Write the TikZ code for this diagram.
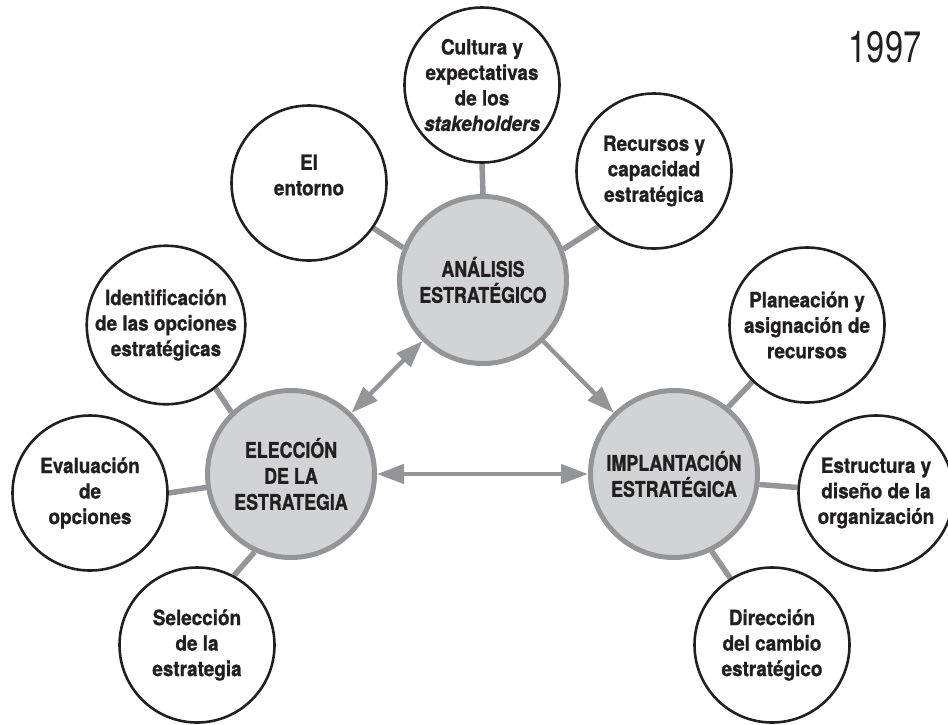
\documentclass[tikz,border=0pt]{standalone}
\usepackage{fontspec}
\setmainfont{TeX Gyre Heros}[FakeStretch=0.9, BoldFeatures={FakeBold=1}, BoldItalicFeatures={FakeBold=1}]
\newfontfamily\capsfont{TeX Gyre Heros}[FakeStretch=0.83, BoldFeatures={FakeBold=1}]
\newfontfamily\yearfont{TeX Gyre Heros}[FakeStretch=0.74]
\usetikzlibrary{arrows.meta,backgrounds}
\definecolor{fillgray}{RGB}{209,211,212}
\definecolor{linegray}{RGB}{147,149,152}
\definecolor{ink}{RGB}{35,31,32}
\begin{document}
\begin{tikzpicture}[x=1pt,y=-1pt,
  every node/.style={text=ink, font=\fontsize{21}{25.5}\selectfont\bfseries},
  outer/.style={circle, draw=ink, line width=2.6pt, fill=white, minimum size=155pt, inner sep=0pt, align=center},
  inner/.style={circle, draw=linegray, line width=5pt, fill=fillgray, minimum size=167pt, inner sep=0pt, align=center,
    font=\capsfont\fontsize{21.5}{26}\selectfont\bfseries},
  link/.style={draw=linegray, line width=5.5pt},
  arr/.style={draw=linegray, line width=4.3pt},
  >={Triangle[length=27pt,width=19pt]}
]
\useasboundingbox (0,0) rectangle (948,724);

% central circles
\node[inner] (anal) at (483,280) {ANÁLISIS\\ESTRATÉGICO};
\node[inner] (elec) at (291,474) {ELECCIÓN\\DE LA\\ESTRATEGIA};
\node[inner] (impl) at (674,474) {IMPLANTACIÓN\\ESTRATÉGICA};

% outer circles
\node[outer] (cult) at (482,85) {Cultura y\\expectativas\\de los\\\textit{stakeholders}};
\node[outer, label={[align=center, yshift=8pt]center:{El\\entorno}}] (ent) at (309,183) {};
\node[outer] (rec) at (654,171) {Recursos y\\capacidad\\estratégica};
\node[outer] (ident) at (166,325) {Identificación\\de las opciones\\estratégicas};
\node[outer] (eval) at (90,493) {Evaluación\\de\\opciones};
\node[outer] (sel) at (197,645) {Selección\\de la\\estrategia};
\node[outer] (plan) at (807,325) {Planeación y\\asignación de\\recursos};
\node[outer] (estr) at (876,493) {Estructura y\\diseño de la\\organización};
\node[outer] (dir) at (772,645) {Dirección\\del cambio\\estratégico};

\node[font=\yearfont\fontsize{44}{48}\selectfont] (year) at (885,47) {1997};

% connectors
\begin{scope}[on background layer]
\draw[link] (cult.-90) -- (anal.90);
\draw[link] (ent.-35) -- (anal.158);
\draw[link] (rec.-135) -- (anal.21);
\draw[link] (ident.-52) -- (elec.134);
\draw[link] (eval.0) -- (elec.189);
\draw[link] (sel.62) -- (elec.245);
\draw[link] (plan.-134) -- (impl.51);
\draw[link] (estr.176) -- (impl.-7);
\draw[link] (dir.122) -- (impl.-64);
\end{scope}

% arrows
\draw[arr,<->] (elec) -- (anal);
\draw[arr,->] (anal) -- (impl);
\draw[arr,<->] (elec) -- (impl);
\end{tikzpicture}
\end{document}
